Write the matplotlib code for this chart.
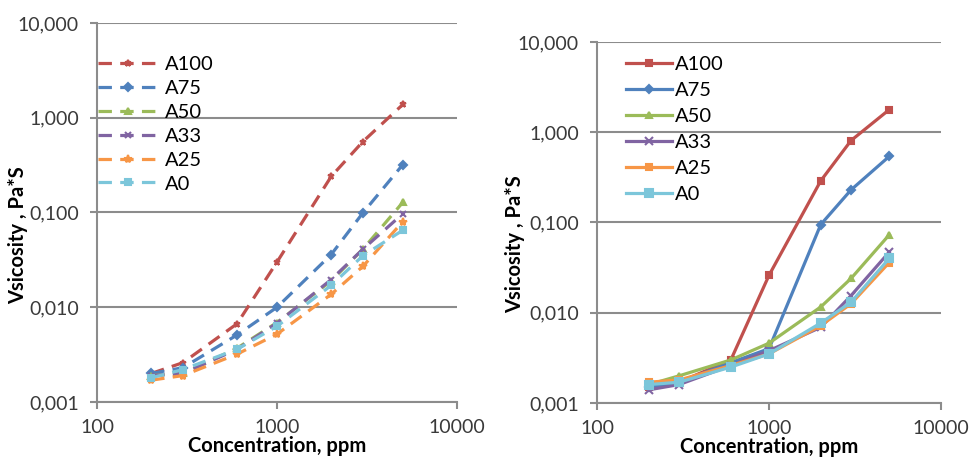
import numpy as np
import matplotlib
matplotlib.use('Agg')
import matplotlib.pyplot as plt
from matplotlib.ticker import FixedLocator, FuncFormatter, NullLocator

plt.rcParams['font.family'] = ['Lato', 'DejaVu Sans']

# concentration, ppm
conc = [200, 300, 600, 1000, 2000, 3000, 5000]
names = ['A100', 'A75', 'A50', 'A33', 'A25', 'A0']

# left panel (dashed)
left_A100 = [0.0020, 0.0026, 0.0067, 0.030, 0.24, 0.56, 1.38]
left_A75 = [0.0020, 0.0023, 0.0051, 0.0100, 0.036, 0.099, 0.32]
left_A50 = [0.0019, 0.0020, 0.0037, 0.0069, 0.019, 0.041, 0.128]
left_A33 = [0.0019, 0.0020, 0.0036, 0.0068, 0.0196, 0.041, 0.097]
left_A25 = [0.0017, 0.0019, 0.0032, 0.0052, 0.0137, 0.027, 0.080]
left_A0 = [0.0018, 0.0022, 0.0036, 0.0063, 0.017, 0.035, 0.065]

# right panel (solid)
right_A100 = [0.0015, 0.0017, 0.0030, 0.026, 0.29, 0.81, 1.78]
right_A75 = [0.0015, 0.0017, 0.0028, 0.0040, 0.095, 0.23, 0.54]
right_A50 = [0.0016, 0.0020, 0.0030, 0.0046, 0.0116, 0.024, 0.073]
right_A33 = [0.0014, 0.0016, 0.0026, 0.0038, 0.0069, 0.0155, 0.047]
right_A25 = [0.0017, 0.0018, 0.0026, 0.0035, 0.0072, 0.0126, 0.036]
right_A0 = [0.0016, 0.0017, 0.0025, 0.0035, 0.0077, 0.0131, 0.040]

left_data = [left_A100, left_A75, left_A50, left_A33, left_A25, left_A0]
right_data = [right_A100, right_A75, right_A50, right_A33, right_A25, right_A0]

colors = ['#C0504D', '#4F81BD', '#9BBB59', '#8064A2', '#F79646', '#7CC6DA']
left_markers = ['*', 'D', '^', 'x', '*', 's']
left_msize = [5, 4, 5, 5, 6, 5]
right_markers = ['s', 'D', '^', 'x', 's', 's']
right_msize = [4, 4, 5, 6, 4, 6]

fig = plt.figure(figsize=(9.73, 4.61), dpi=100)
ax1 = fig.add_axes([97/973, 1-402/461, 360/973, 379/461])
ax2 = fig.add_axes([597/973, 1-403/461, 344/973, 361/461])

def style_axis(ax):
    ax.set_xscale('log')
    ax.set_yscale('log')
    ax.set_xlim(100, 10000)
    ax.set_ylim(0.001, 10)
    ax.xaxis.set_major_locator(FixedLocator([100, 1000, 10000]))
    ax.yaxis.set_major_locator(FixedLocator([0.001, 0.01, 0.1, 1, 10]))
    ax.xaxis.set_minor_locator(NullLocator())
    ax.yaxis.set_minor_locator(NullLocator())
    ax.xaxis.set_major_formatter(FuncFormatter(lambda v, p: '%d' % round(v)))
    ax.yaxis.set_major_formatter(FuncFormatter(lambda v, p: ('%.3f' % v).replace('.', ',')))
    ax.grid(axis='y', color='#8c8c8c', linewidth=1.5)
    ax.set_axisbelow(True)
    for s in ['top', 'right']:
        ax.spines[s].set_visible(False)
    for s in ['left', 'bottom']:
        ax.spines[s].set_color('#8c8c8c')
        ax.spines[s].set_linewidth(1.5)
    ax.tick_params(axis='both', which='major', labelsize=14, colors='#8c8c8c',
                   labelcolor='#3a3a3a', length=5, width=1.5)
    ax.tick_params(axis='x', pad=7)
    ax.tick_params(axis='y', pad=8)
    ax.set_xlabel('Concentration, ppm', fontsize=14.5, fontweight='bold', labelpad=0)

style_axis(ax1)
style_axis(ax2)

for i in range(len(names)):
    ax1.plot(conc, left_data[i], color=colors[i], linewidth=2.3, dashes=(4.2, 2.6),
             marker=left_markers[i], markersize=left_msize[i], markeredgewidth=1.5,
             label=names[i])
    ax2.plot(conc, right_data[i], color=colors[i], linewidth=2.3,
             marker=right_markers[i], markersize=right_msize[i], markeredgewidth=1.5,
             label=names[i])

leg1 = ax1.legend(loc='upper left', bbox_to_anchor=(-0.02, 0.935), frameon=False,
                  fontsize=14.5, handlelength=3.0, handletextpad=0.35, labelspacing=0.34,
                  borderaxespad=0)
leg2 = ax2.legend(loc='upper left', bbox_to_anchor=(0.06, 0.985), frameon=False,
                  fontsize=14.5, handlelength=2.3, handletextpad=0.15, labelspacing=0.45,
                  borderaxespad=0)

ax1.set_ylabel('Vsicosity , Pa*S', fontsize=14.5, fontweight='bold')
ax1.yaxis.set_label_coords(-0.19, 0.44)
ax2.set_ylabel('Vsicosity , Pa*S', fontsize=14.5, fontweight='bold')
ax2.yaxis.set_label_coords(-0.21, 0.44)

plt.savefig('out.png', dpi=100)
